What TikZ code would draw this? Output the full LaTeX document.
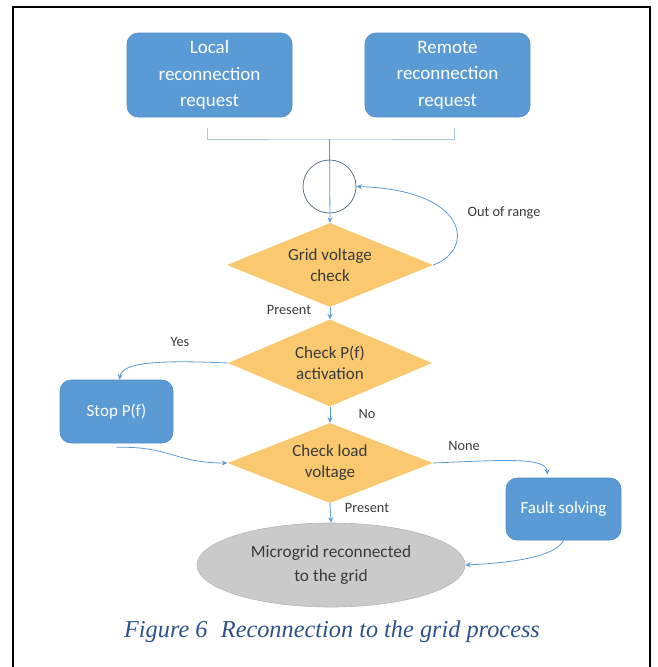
\documentclass[tikz,border=0pt]{standalone}
\usepackage{fontspec}
\setmainfont{Carlito}
\newfontfamily\capfont{Liberation Serif}
\usetikzlibrary{shapes.geometric,arrows.meta}
\definecolor{boxblue}{HTML}{5B9BD5}
\definecolor{boxedge}{HTML}{4F8CC6}
\definecolor{linkblue}{HTML}{5B9BD5}
\definecolor{bracketblue}{HTML}{A9C8E8}
\definecolor{decfill}{HTML}{FAC96F}
\definecolor{joinedge}{HTML}{5F7286}
\definecolor{endfill}{HTML}{CACACA}
\definecolor{endedge}{HTML}{B5B5B5}
\definecolor{inktext}{HTML}{3A3A3A}
\definecolor{capblue}{HTML}{2D5189}
\begin{document}
\begin{tikzpicture}[x=1pt,y=-1pt,
  actbox/.style={rectangle, rounded corners=11pt, fill=boxblue, draw=boxedge, line width=0.6pt,
    text=white, align=center, inner sep=0pt},
  bigbox/.style={actbox, minimum width=165pt, minimum height=84pt,
    font=\fontsize{19}{26.5}\selectfont},
  smallbox/.style={actbox, font=\fontsize{17}{20}\selectfont},
  decision/.style={diamond, aspect=2.45, fill=decfill, draw=none, inner sep=0pt, align=center,
    text=inktext, font=\fontsize{17}{21}\selectfont},
  endstate/.style={ellipse, fill=endfill, draw=endedge, line width=0.6pt, inner sep=0pt,
    align=center, text=inktext, font=\fontsize{17.3}{24}\selectfont},
  link/.style={draw=linkblue, line width=0.8pt, -{Stealth[length=5.5pt,width=5pt]}},
  tag/.style={text=inktext, font=\fontsize{14.3}{16}\selectfont, inner sep=0pt}
]
\useasboundingbox (0,0) rectangle (657,667);

% page frame
\draw[line width=2pt] (13,7) -- (651,7);
\draw[line width=1.8pt] (13,6) -- (13,667);
\draw[line width=2.5pt] (650,6) -- (650,667);

% request boxes
\node[bigbox] (local) at (209.5,75) {Local\\reconnection\\request};
\node[bigbox] (remote) at (447.5,75) {Remote\\reconnection\\request};

% junction circle
\node[circle, draw=joinedge, line width=0.8pt, minimum size=53pt, inner sep=0pt] (join) at (329.5,186.5) {};

% decisions
\node[decision, minimum width=206pt, minimum height=84pt] (grid) at (330,265) {Grid voltage\\check};
\node[decision, minimum width=204pt, minimum height=87pt] (pf) at (330,363) {Check P(f)\\activation};
\node[decision, minimum width=205pt, minimum height=80pt] (load) at (330,463) {Check load\\voltage};

% actions
\node[smallbox, minimum width=113pt, minimum height=63pt] (stop) at (116.5,411.5) {Stop P(f)};
\node[smallbox, minimum width=115pt, minimum height=62pt] (fault) at (563.5,509) {Fault solving};

% final state
\node[endstate, minimum width=268pt, minimum height=84pt] (done) at (331,565) {Microgrid reconnected\\to the grid};

% bracket joining both requests
\coordinate (bl) at (207,128);
\coordinate (br) at (454,128);
\coordinate (bm) at (329.5,139);
\draw[draw=bracketblue, line width=0.9pt] (bl) |- (bm) -| (br);
\draw[link] (bm) -- (grid.north);

% voltage loop
\draw[link] (grid.east) .. controls (475,250) and (470,190) .. (join.east);
\node[tag] at (504,213) {Out of range};

% main chain
\draw[link] (grid.south) -- (pf.north);
\node[tag] at (289,310) {Present};
\draw[link] (pf.south) -- (load.north);
\node[tag] at (367,414) {No};
\draw[link] (load.south) -- (done.north);
\node[tag] at (367,508) {Present};

% side branches
\draw[link] (pf.west) .. controls (160,360) and (122,362) .. ([xshift=3pt]stop.north);
\node[tag] at (180,342) {Yes};
\draw[link] ([yshift=-4pt]stop.south) .. controls (170,446) and (175,463) .. (load.west);
\draw[link] (load.east) .. controls (505,460) and (546,457) .. ([xshift=-16pt,yshift=3pt]fault.north);
\node[tag] at (464,446) {None};
\draw[link] (fault.south) .. controls (556,557) and (510,563) .. (done.east);

% caption
\node[text=capblue, font=\capfont\itshape\fontsize{24.3}{28}\selectfont, inner sep=0pt] (cap) at (332,632)
  {Figure 6\hspace{0.55em}Reconnection to the grid process};
\end{tikzpicture}
\end{document}
